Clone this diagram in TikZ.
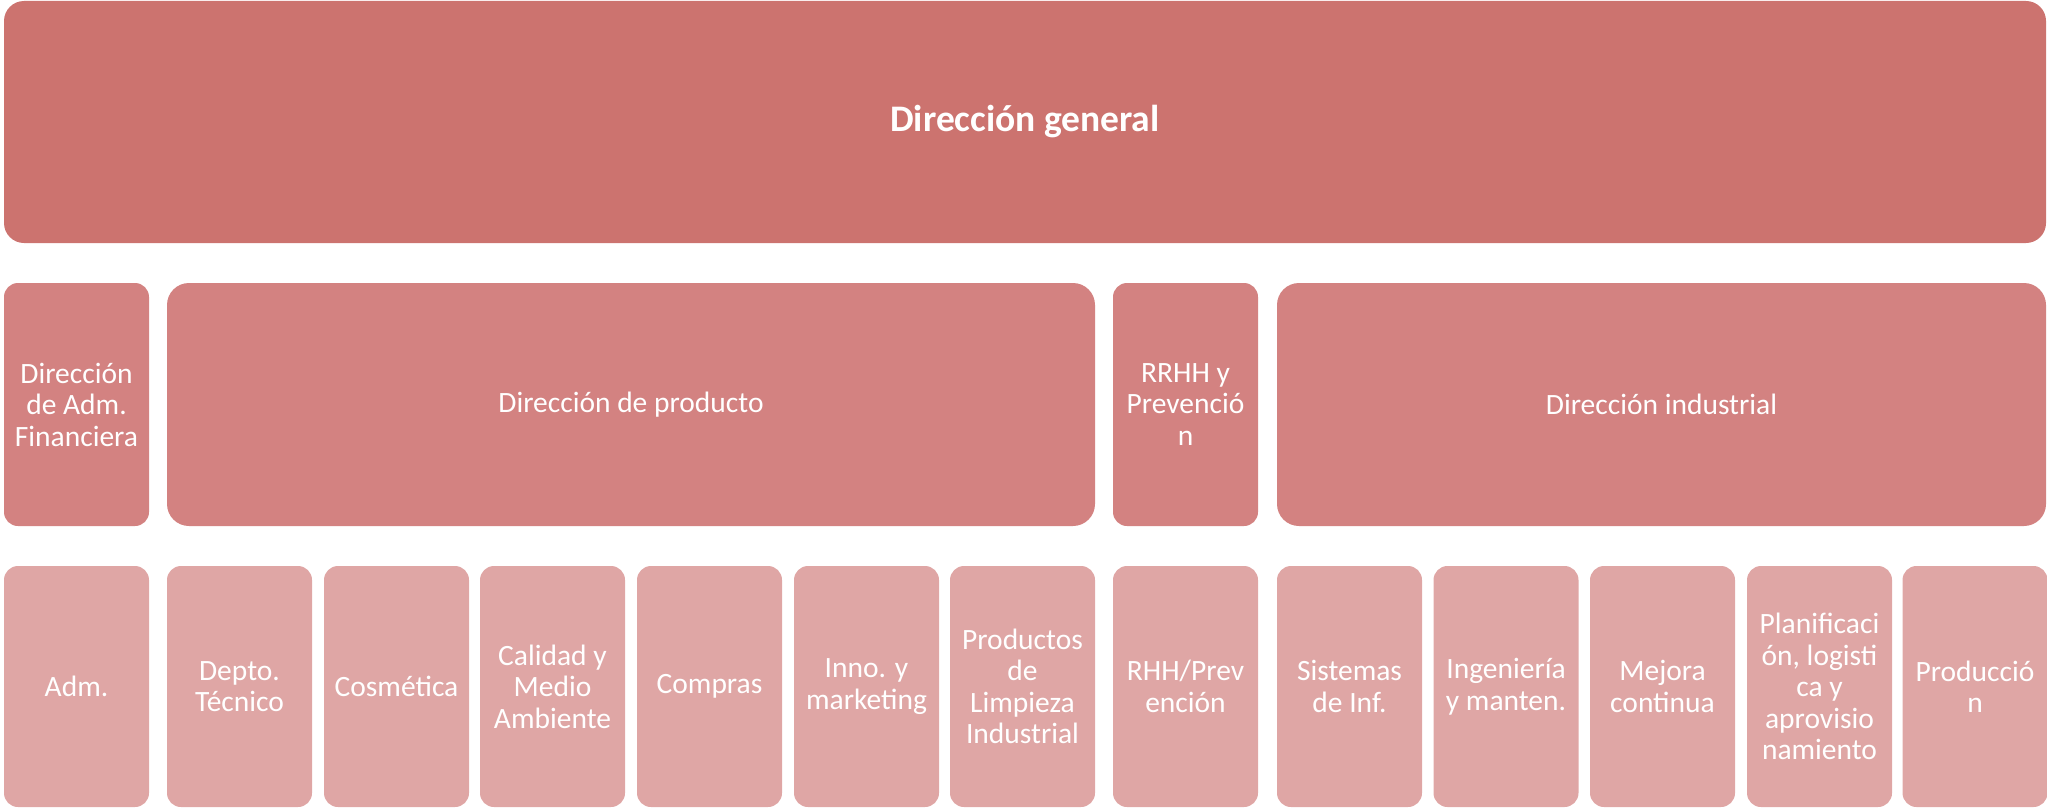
\documentclass[tikz,border=0pt]{standalone}
\usepackage{fontspec}
\setmainfont{Carlito}
\definecolor{ctop}{RGB}{204,115,111}
\definecolor{cmid}{RGB}{211,130,129}
\definecolor{cbot}{RGB}{223,166,165}
\tikzset{
  base/.style={inner sep=0pt, outer sep=0pt, align=center, text=white,
    font=\fontsize{29.5}{31.5}\selectfont},
  topbox/.style={base, fill=ctop, rounded corners=20pt, minimum width=2042pt, minimum height=242pt,
    font=\fontsize{37.5}{40}\selectfont\bfseries},
  midbox/.style={base, fill=cmid, rounded corners=14pt, minimum height=243pt},
  bigbox/.style={base, fill=cmid, rounded corners=22pt, minimum height=243pt},
  botbox/.style={base, fill=cbot, rounded corners=14pt, minimum width=145pt, minimum height=241pt},
}
\begin{document}
\begin{tikzpicture}[x=1pt,y=-1pt]
\useasboundingbox (0,0) rectangle (2047,808);
\node[topbox] (dg) at (1025,122) {Dirección general};
% middle row
\node[midbox, minimum width=145pt] (daf) at (76.5,404.5) {Dirección\\de Adm.\\Financiera};
\node[bigbox, minimum width=928pt] (dp) at (631,404.5) {Dirección de producto};
\node[midbox, minimum width=145pt] (rrhh) at (1185.5,404.5) {RRHH y\\Prevenció\\n};
\node[bigbox, minimum width=769pt] (di) at (1661.5,404.5) {Dirección industrial};
% bottom row
\node[botbox] (adm) at (76.5,686.5) {Adm.};
\node[botbox] (dt) at (239.5,686.5) {Depto.\\Técnico};
\node[botbox] (cos) at (396.5,686.5) {Cosmética};
\node[botbox] (cal) at (552.5,686.5) {Calidad y\\Medio\\Ambiente};
\node[botbox] (com) at (709.5,686.5) {Compras};
\node[botbox] (inn) at (866.5,686.5) {Inno. y\\marketing};
\node[botbox] (pli) at (1022.5,686.5) {Productos\\de\\Limpieza\\Industrial};
\node[botbox] (rhh) at (1185.5,686.5) {RHH/Prev\\ención};
\node[botbox] (sis) at (1349.5,686.5) {Sistemas\\de Inf.};
\node[botbox] (ing) at (1506,686.5) {Ingeniería\\y manten.};
\node[botbox] (mej) at (1662.5,686.5) {Mejora\\continua};
\node[botbox] (pla) at (1819.5,686.5) {Planificaci\\ón, logisti\\ca y\\aprovisio\\namiento};
\node[botbox] (pro) at (1975,686.5) {Producció\\n};
\end{tikzpicture}
\end{document}
